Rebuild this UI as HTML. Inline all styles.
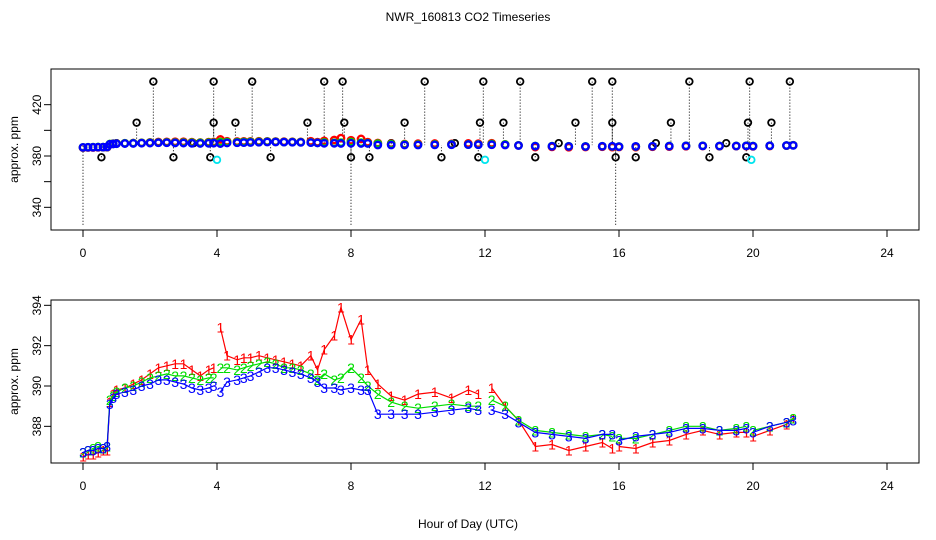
<!DOCTYPE html>
<html><head><meta charset="utf-8"><title>NWR_160813 CO2 Timeseries</title>
<style>
html,body{margin:0;padding:0;background:#fff;}
svg{display:block;font-family:"Liberation Sans",sans-serif;}
</style></head>
<body>
<svg id="chart" width="936" height="540" viewBox="0 0 936 540" xmlns="http://www.w3.org/2000/svg">
<rect x="0" y="0" width="936" height="540" fill="#fff"/>
<text x="468" y="21" font-size="12" text-anchor="middle">NWR_160813  CO2 Timeseries</text>
<text x="468" y="528" font-size="12" text-anchor="middle">Hour of Day (UTC)</text>
<g id="top"></g>
<g id="bot"></g>
</svg>
<script>
const hours = [0,0.15,0.3,0.45,0.6,0.72,0.8,0.9,1.0,1.25,1.5,1.75,2.0,2.25,2.5,2.75,3.0,3.25,3.5,3.75,3.9,3.95,4.1,4.3,4.6,4.8,5.0,5.25,5.5,5.75,6.0,6.25,6.5,6.8,7.0,7.2,7.5,7.7,8.0,8.3,8.5,8.8,9.2,9.6,10.0,10.5,11.0,11.5,11.8,11.95,12.2,12.6,13.0,13.5,14.0,14.5,15.0,15.5,15.8,15.9,16.0,16.5,17.0,17.5,18.0,18.5,19.0,19.5,19.8,19.9,20.0,20.5,21.0,21.2];
const red =   [386.5,386.6,386.6,386.7,386.8,386.8,389.2,389.6,389.8,389.9,390.1,390.3,390.6,390.9,391.0,391.1,391.1,390.8,390.5,390.8,390.9,null,392.9,391.5,391.3,391.4,391.4,391.5,391.4,391.3,391.2,391.1,391.0,391.5,390.8,391.8,392.5,393.9,392.3,393.3,390.8,390.1,389.5,389.3,389.6,389.7,389.4,389.8,389.6,null,389.9,389.0,388.3,387.0,387.1,386.8,387.0,387.2,386.9,null,387.0,386.9,387.2,387.3,387.6,387.8,387.6,387.7,387.7,null,387.5,387.8,388.1,388.4];
const green = [386.7,386.8,386.9,387.0,386.9,387.0,389.3,389.5,389.7,389.9,390.0,390.2,390.4,390.5,390.6,390.5,390.5,390.4,390.3,390.4,390.4,null,390.9,390.9,390.8,390.9,391.0,391.1,391.2,391.1,390.9,390.9,390.8,390.6,390.3,390.6,390.3,390.4,390.9,390.4,390.0,389.6,389.2,389.0,388.9,389.0,389.1,389.0,389.0,null,389.3,389.0,388.3,387.8,387.7,387.6,387.5,387.6,387.5,null,387.4,387.4,387.6,387.8,388.0,388.0,387.8,387.9,388.0,null,387.8,388.0,388.2,388.4];
const blue =  [386.7,386.8,386.8,386.9,386.9,387.0,389.1,389.4,389.6,389.7,389.8,390.0,390.1,390.3,390.3,390.2,390.1,389.9,389.8,389.9,390.0,null,389.7,390.2,390.3,390.4,390.5,390.7,390.9,390.9,390.8,390.7,390.6,390.4,390.2,389.9,389.9,389.8,389.9,389.8,389.8,388.6,388.6,388.6,388.6,388.7,388.8,388.9,388.8,null,388.8,388.6,388.2,387.7,387.6,387.5,387.4,387.6,387.6,null,387.3,387.5,387.6,387.7,387.9,387.9,387.8,387.8,387.9,null,387.7,388.0,388.2,388.3];
const outHours = [2.1,3.9,5.05,7.2,7.75,10.2,11.95,13.05,15.2,15.8,18.1,19.9,21.1,1.6,3.9,4.55,6.7,7.8,9.6,11.85,12.55,14.7,15.8,17.55,19.85,20.55,0.55,2.7,3.8,5.6,8.0,8.55,10.7,11.8,13.5,15.9,16.5,18.7,19.8,1.0,3.3,9.2,11.1,14.2,17.1,19.2];
const outVals  = [438,438,438,438,438,438,438,438,438,438,438,438,438,406,406,406,406,406,406,406,406,406,406,406,406,406,379,379,379,379,379,379,379,379,379,379,379,379,379,390,390,390,390,390,390,390];
const cyanHours = [4.0,12.0,19.95];
const cyanVals  = [377,377,377];
const longDropHours = [0,8.0,15.9];
const xTicks = [0,4,8,12,16,20,24];
const topYTicks = [340,360,380,400,420];
const topYLabels = ["340","","380","","420"];
const botYTicks = [388,390,392,394];

const NS="http://www.w3.org/2000/svg";
function mk(parent,tag,attrs){const e=document.createElementNS(NS,tag);for(const k in attrs)e.setAttribute(k,attrs[k]);parent.appendChild(e);return e;}
const L=51,R=919;
const xs=h=>83+h*33.5;
const topY=v=>156-(v-380)*1.283;
const botY=v=>386-(v-390)*20.17;

function axes(g,top,bot,yfun,yt,ylab,prefix){
  const box=mk(g,'rect',{x:L,y:top,width:R-L,height:bot-top,fill:'none',stroke:'#000','stroke-width':1});
  
  
  xTicks.forEach(t=>{
    mk(g,'line',{x1:xs(t),x2:xs(t),y1:bot,y2:bot+7,stroke:'#000'});
    const tx=mk(g,'text',{x:xs(t),y:bot+27,'font-size':12,'text-anchor':'middle'});
    tx.textContent=t;
    
    
  });
  yt.forEach((t,i)=>{
    const y=yfun(t);
    mk(g,'line',{x1:L-7,x2:L,y1:y,y2:y,stroke:'#000'});
    const lab=ylab[i];
    if(lab){
      const tx=mk(g,'text',{x:41,y:y,'font-size':12,'text-anchor':'middle',transform:'rotate(-90 41 '+y+')'});
      tx.textContent=lab;
      
      
    }
  });
  const cy=(top+bot)/2;
  const yt2=mk(g,'text',{x:18,y:cy,'font-size':12,'text-anchor':'middle',transform:'rotate(-90 18 '+cy+')'});
  yt2.textContent='approx. ppm';
  
  
}

// ---- top panel
const gt=document.getElementById('top');
axes(gt,69,230,topY,topYTicks,topYLabels,'top');
longDropHours.forEach(h=>{
  const l=mk(gt,'line',{x1:xs(h),x2:xs(h),y1:topY(388),y2:225,stroke:'#000','stroke-dasharray':'1,2'});
  
  
});
outHours.forEach((h,i)=>{
  const l=mk(gt,'line',{x1:xs(h),x2:xs(h),y1:topY(outVals[i]),y2:topY(388.5),stroke:'#000','stroke-dasharray':'1,2'});
  
  
});
outHours.forEach((h,i)=>{
  const c=mk(gt,'circle',{cx:xs(h),cy:topY(outVals[i]),r:3.3,fill:'none',stroke:'#000','stroke-width':1.8});
  
  
});
cyanHours.forEach((h,i)=>{
  const c=mk(gt,'circle',{cx:xs(h),cy:topY(cyanVals[i]),r:3.3,fill:'none',stroke:'#00e5ee','stroke-width':1.8});
  
  
});
[[red,'#ff0000','red'],[green,'#00dd00','green'],[blue,'#0000ff','blue']].forEach(([arr,col,nm])=>{
  hours.forEach((h,i)=>{
    if(arr[i]==null)return;
    const c=mk(gt,'circle',{cx:xs(h),cy:topY(arr[i]),r:3.2,fill:'none',stroke:col,'stroke-width':2.4});
    
    
  });
});

// ---- bottom panel
const gb=document.getElementById('bot');
axes(gb,300,463,botY,botYTicks,botYTicks.map(String),'bottom');
const clip=mk(gb,'clipPath',{id:'bclip'});
mk(clip,'rect',{x:L,y:300,width:R-L,height:163});
const inner=mk(gb,'g',{'clip-path':'url(#bclip)'});
[[red,'#ff0000','1','red'],[green,'#00dd00','2','green'],[blue,'#0000ff','3','blue']].forEach(([arr,col,ch,nm])=>{
  let seg=[];
  const segs=[];
  hours.forEach((h,i)=>{
    if(arr[i]==null){if(seg.length)segs.push(seg);seg=[];return;}
    seg.push(xs(h).toFixed(1)+','+botY(arr[i]).toFixed(1));
  });
  if(seg.length)segs.push(seg);
  segs.forEach(s=>{
    const p=mk(inner,'polyline',{points:s.join(' '),fill:'none',stroke:col,'stroke-width':1.2});
    
    
  });
  hours.forEach((h,i)=>{
    if(arr[i]==null)return;
    const t=mk(inner,'text',{x:xs(h),y:botY(arr[i])+5,'font-size':14,fill:col,'text-anchor':'middle'});
    t.textContent=ch;
    
    
  });
});
</script>
</body></html>
